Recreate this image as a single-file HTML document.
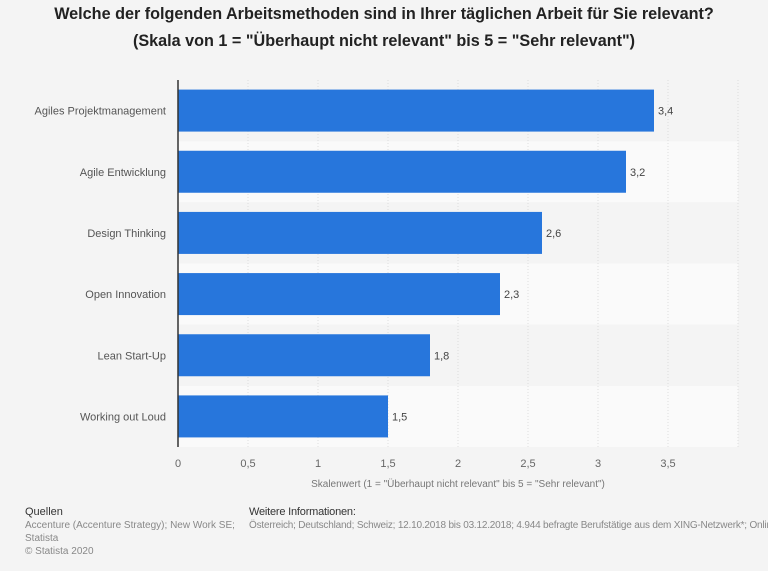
<!DOCTYPE html>
<html><head><meta charset="utf-8"><style>
body{margin:0;width:768px;height:571px;background:#f4f4f4;font-family:"Liberation Sans",sans-serif;overflow:hidden;position:relative}
.t{position:absolute;left:0;width:768px;text-align:center;font-weight:bold;font-size:16.2px;color:#222}
.f{position:absolute;font-size:10px;color:#888;line-height:13px}
.fh{color:#333;font-size:11px}
</style></head><body>
<div class="t" style="top:5px">Welche der folgenden Arbeitsmethoden sind in Ihrer täglichen Arbeit für Sie relevant?</div>
<div class="t" style="top:32px">(Skala von 1 = "Überhaupt nicht relevant" bis 5 = "Sehr relevant")</div>
<svg id="c" width="768" height="500" style="position:absolute;left:0;top:0"></svg>
<div class="f" style="left:25px;top:506px"><span class="fh">Quellen</span><br>Accenture (Accenture Strategy); New Work SE;<br>Statista<br>© Statista 2020</div>
<div class="f" style="left:249px;top:506px;width:519px;overflow:hidden;white-space:nowrap;letter-spacing:-0.2px"><span class="fh">Weitere Informationen:</span><br>Österreich; Deutschland; Schweiz; 12.10.2018 bis 03.12.2018; 4.944 befragte Berufstätige aus dem XING-Netzwerk*; Online-Umfrage</div>
<script>
const categories=["Agiles Projektmanagement","Agile Entwicklung","Design Thinking","Open Innovation","Lean Start-Up","Working out Loud"];
const values=[3.4,3.2,2.6,2.3,1.8,1.5];
const labels=["3,4","3,2","2,6","2,3","1,8","1,5"];
const ticks=[0,0.5,1,1.5,2,2.5,3,3.5,4];
const tickLabels=["0","0,5","1","1,5","2","2,5","3","3,5",""];
const svg=document.getElementById('c');const NS="http://www.w3.org/2000/svg";
const X0=178,PX=140,Y0=80,Y1=447,RH=(Y1-Y0)/categories.length;
const x=v=>X0+v*PX;
function el(t,a,p){const e=document.createElementNS(NS,t);for(const k in a)e.setAttribute(k,a[k]);(p||svg).appendChild(e);return e;}
categories.forEach((c,i)=>{const b=el('rect',{x:X0,y:Y0+i*RH,width:x(4)-X0,height:RH,fill:i%2?'#fafafa':'#f4f4f4'});

});
ticks.forEach((t,i)=>{if(t>0){const g=el('line',{x1:x(t),x2:x(t),y1:Y0,y2:Y1,stroke:'#ddd','stroke-dasharray':'1,2'});

}
const l=el('text',{x:x(t),y:467,'text-anchor':'middle','font-size':11,fill:'#666'});l.textContent=tickLabels[i];

});
categories.forEach((c,i)=>{const cy=Y0+i*RH+RH/2;
const r=el('rect',{x:X0,y:cy-21,width:x(values[i])-X0,height:42,fill:'#2776dc'});


const t=el('text',{x:166,y:cy+4,'text-anchor':'end','font-size':11,fill:'#555'});t.textContent=c;


const v=el('text',{x:x(values[i])+4,y:cy+4,'font-size':11,fill:'#444'});v.textContent=labels[i];

});
const ax=el('line',{x1:X0,x2:X0,y1:Y0,y2:Y1,stroke:'#333','stroke-width':1.5});


const at=el('text',{x:458,y:487,'text-anchor':'middle','font-size':10,fill:'#777'});at.textContent='Skalenwert (1 = "Überhaupt nicht relevant" bis 5 = "Sehr relevant")';


</script>
</body></html>
